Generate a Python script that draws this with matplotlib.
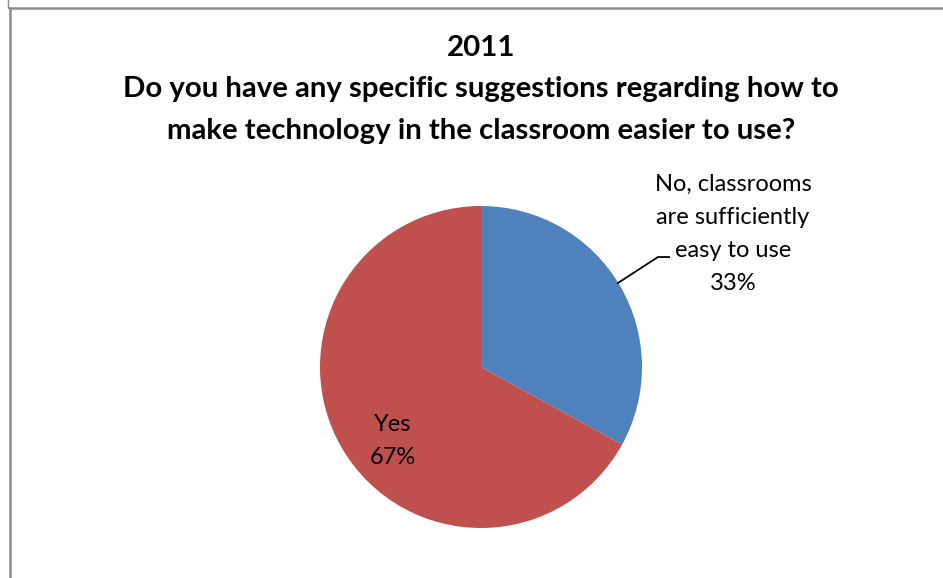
import matplotlib.pyplot as plt
from matplotlib.lines import Line2D

W, H = 943, 578

title = "2011\nDo you have any specific suggestions regarding how to\nmake technology in the classroom easier to use?"
labels = ["No, classrooms\nare sufficiently\neasy to use", "Yes"]
values = [33, 67]
colors = ["#4F81BD", "#C0504D"]

plt.rcParams['font.family'] = ['Lato', 'DejaVu Sans']

fig = plt.figure(figsize=(W / 100, H / 100), dpi=100)

# frame lines like the sheet border
gray = "#8c8c8c"
fig.add_artist(Line2D([10 / W, 1], [1 - 8 / H, 1 - 8 / H], color=gray, lw=1.8, transform=fig.transFigure))
fig.add_artist(Line2D([10 / W, 10 / W], [0, 1 - 8 / H], color=gray, lw=1.8, transform=fig.transFigure))
fig.add_artist(Line2D([8 / W, 8 / W], [1 - 8 / H, 1], color=gray, lw=1.0, transform=fig.transFigure))

# pie centre (481, 367) px, radius 161 px
cx, cy, r = 481, 367, 161
ax = fig.add_axes([(cx - r) / W, (H - cy - r) / H, 2 * r / W, 2 * r / H])
ax.pie(values, colors=colors, startangle=90, counterclock=False,
       wedgeprops=dict(linewidth=0))
ax.set_xlim(-1, 1)
ax.set_ylim(-1, 1)
ax.set_aspect('equal')
ax.axis('off')

# data labels
ax.text(1.565, 0.826, f"{labels[0]}\n{values[0]}%", ha='center', va='center',
        fontsize=17, linespacing=1.7, clip_on=False)
ax.text(-0.547, -0.46, f"{labels[1]}\n{values[1]}%", ha='center', va='center',
        fontsize=17, linespacing=1.7, clip_on=False)
ax.plot([0.851, 1.099, 1.168], [0.522, 0.683, 0.683], color='black', lw=1.3, clip_on=False)

fig.text(cx / W, 1 - 89.5 / H, title, ha='center', va='center', fontsize=21.2,
         fontweight='bold', linespacing=1.74)

fig.savefig("out.png", dpi=100)
